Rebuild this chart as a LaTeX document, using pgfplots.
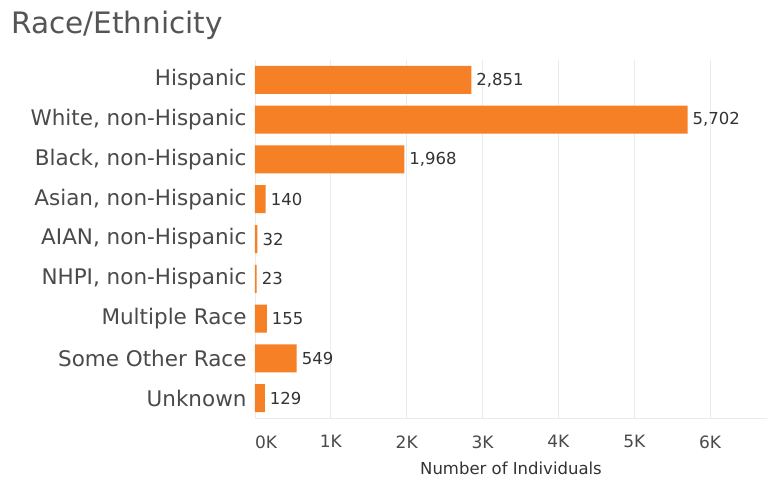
\documentclass[border=0pt]{standalone}
\usepackage{pgfplots}
\pgfplotsset{compat=1.18}
\usepackage{fontspec}
\setmainfont{DejaVu Sans}
\definecolor{barorange}{HTML}{F58025}
\definecolor{titlegrey}{HTML}{555555}
\definecolor{cat}{HTML}{4A4A4A}
\definecolor{txt}{HTML}{333333}
\definecolor{gridc}{HTML}{EBEBEB}
\begin{document}
\begin{tikzpicture}
\path[use as bounding box, fill=white] (0,0) rectangle (769bp,483bp);
\node[anchor=west, inner sep=0pt, text=titlegrey, font=\fontsize{29.5bp}{33bp}\selectfont] at (11bp,458bp) {Race/Ethnicity};
\begin{axis}[
  at={(255bp,65bp)}, anchor=south west,
  scale only axis,
  width=512bp, height=358bp,
  xbar, bar width=28bp,
  xmin=0, xmax=6750,
  ymin=-0.5, ymax=8.5, y dir=reverse,
  ytick={0,...,8},
  yticklabels={Hispanic,{White, non-Hispanic},{Black, non-Hispanic},{Asian, non-Hispanic},{AIAN, non-Hispanic},{NHPI, non-Hispanic},Multiple Race,Some Other Race,Unknown},
  yticklabel style={font=\fontsize{21.5bp}{23bp}\selectfont, text=cat, xshift=-5bp},
  xtick={0,1000,...,6000},
  xticklabels={\hphantom{0K}0K,1K,2K,3K,4K,5K,6K},
  xticklabel style={font=\fontsize{17bp}{19bp}\selectfont, text=cat, yshift=-14bp},
  xlabel={Number of Individuals},
  xlabel style={font=\fontsize{16.5bp}{18bp}\selectfont, text=txt, yshift=-7bp},
  major tick length=0pt,
  xmajorgrids, grid style={gridc, line width=0.8pt},
  axis line style={draw=none},
  axis x line*=bottom, axis y line*=left,
  x axis line style={draw=gridc, line width=0.8pt},
  y axis line style={draw=gridc, line width=0.8pt},
  nodes near coords,
  nodes near coords align={horizontal},
  point meta=x,
  every node near coord/.append style={font=\fontsize{16.5bp}{18bp}\selectfont, text=txt, inner xsep=5bp,
    /pgf/number format/.cd, fixed, 1000 sep={,}},
  /pgf/number format/assume math mode=true,
]
\addplot[fill=barorange, draw=none] coordinates {
(2851,0) (5702,1) (1968,2) (140,3) (32,4) (23,5) (155,6) (549,7) (129,8)
};
\end{axis}
\end{tikzpicture}
\end{document}
